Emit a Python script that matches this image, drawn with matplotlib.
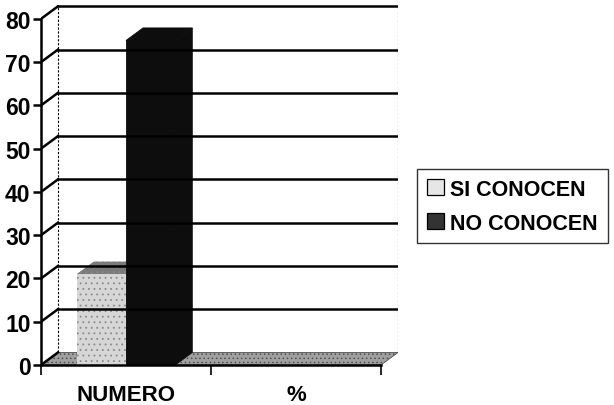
import matplotlib.pyplot as plt
from matplotlib.patches import Polygon, Rectangle, Patch

plt.rcParams['font.family'] = ['Liberation Sans', 'DejaVu Sans']
plt.rcParams['hatch.linewidth'] = 0.6

categories = ['NUMERO', '%']
series = ['SI CONOCEN', 'NO CONOCEN']
si_conocen = [21, 0]
no_conocen = [75, 0]
yticks = [0, 10, 20, 30, 40, 50, 60, 70, 80]

# depth of the fake 3d box, in data units
DX, DY = 0.1, 2.9
BAR_W = 0.29
BAR_X0 = 0.21

front_cols = ['#d6d6d6', '#0d0d0d']
top_cols = ['#7a7a7a', '#0d0d0d']
hatch_cols = ['#8a8a8a', '#0d0d0d']
hatches = ['...', None]

fig = plt.figure(figsize=(6.14, 4.06), dpi=100)
ax = fig.add_axes([41 / 614, 40 / 406, 357 / 614, 360 / 406])
ax.set_xlim(0, len(categories) + DX)
ax.set_ylim(0, 80 + DY + 0.3)

# walls: dotted border of the back/side panes
wall = dict(color='black', lw=0.8, ls=(0, (2, 1.5)))
ax.plot([DX, DX], [DY, 80 + DY], **wall)
ax.plot([DX, len(categories) + DX], [80 + DY, 80 + DY], **wall)
ax.plot([len(categories) + DX] * 2, [DY, 80 + DY], **wall)

# gridlines on the back wall + slanted bits on the side wall
for v in yticks:
    if v > 0:
        ax.plot([DX, len(categories) + DX], [v + DY, v + DY], color='black', lw=1.8)
    ax.plot([0, DX], [v, v + DY], color='black', lw=1.8)

# floor
ax.add_patch(Polygon([(0, 0), (len(categories), 0), (len(categories) + DX, DY), (DX, DY)],
                     closed=True, facecolor='#a0a0a0', edgecolor='#505050', lw=0.6, hatch='....'))

# bars
for i, vals in enumerate([si_conocen, no_conocen]):
    for c, v in enumerate(vals):
        if v <= 0:
            continue
        x0 = c + BAR_X0 + i * BAR_W
        x1 = x0 + BAR_W
        lw = 0 if hatches[i] else 0.6
        ax.add_patch(Polygon([(x1, 0), (x1 + DX, DY), (x1 + DX, v + DY), (x1, v)],
                             closed=True, facecolor=top_cols[i], edgecolor=hatch_cols[i], lw=lw, hatch=hatches[i]))
        ax.add_patch(Polygon([(x0, v), (x1, v), (x1 + DX, v + DY), (x0 + DX, v + DY)],
                             closed=True, facecolor=top_cols[i], edgecolor=hatch_cols[i], lw=lw, hatch=hatches[i]))
        ax.add_patch(Rectangle((x0, 0), BAR_W, v, facecolor=front_cols[i],
                               edgecolor=hatch_cols[i], lw=lw, hatch=hatches[i]))

# axes
for s in ['top', 'right']:
    ax.spines[s].set_visible(False)
ax.spines['left'].set_bounds(0, 80)
ax.spines['bottom'].set_bounds(0, len(categories))
ax.spines['left'].set_linewidth(1.8)
ax.spines['bottom'].set_linewidth(1.8)
ax.set_yticks(yticks)
ax.set_yticklabels([str(t) for t in yticks], fontsize=16.5, fontweight='bold')
ax.tick_params(axis='y', length=6, width=1.8, pad=1.5)
ax.set_xticks(range(len(categories) + 1))
ax.set_xticklabels([])
ax.set_xticks([c + 0.5 for c in range(len(categories))], minor=True)
ax.set_xticklabels(categories, minor=True, fontsize=16, fontweight='bold')
ax.tick_params(axis='x', which='major', length=7, width=1.2)
ax.tick_params(axis='x', which='minor', length=0, pad=14)

handles = [Patch(facecolor='#e6e6e6', edgecolor='black', lw=0.9),
           Patch(facecolor='#333333', edgecolor='black', lw=0.9)]
leg = fig.legend(handles, series, loc='upper left', bbox_to_anchor=(417 / 614, 1 - 170 / 406),
                 prop={'weight': 'bold', 'size': 15.5}, frameon=True, fancybox=False,
                 handlelength=0.8, handleheight=0.8, handletextpad=0.3, borderpad=0.45,
                 labelspacing=0.6, borderaxespad=0)
leg.get_frame().set_edgecolor('black')
leg.get_frame().set_linewidth(1.0)

fig.savefig('out.png', dpi=100)
